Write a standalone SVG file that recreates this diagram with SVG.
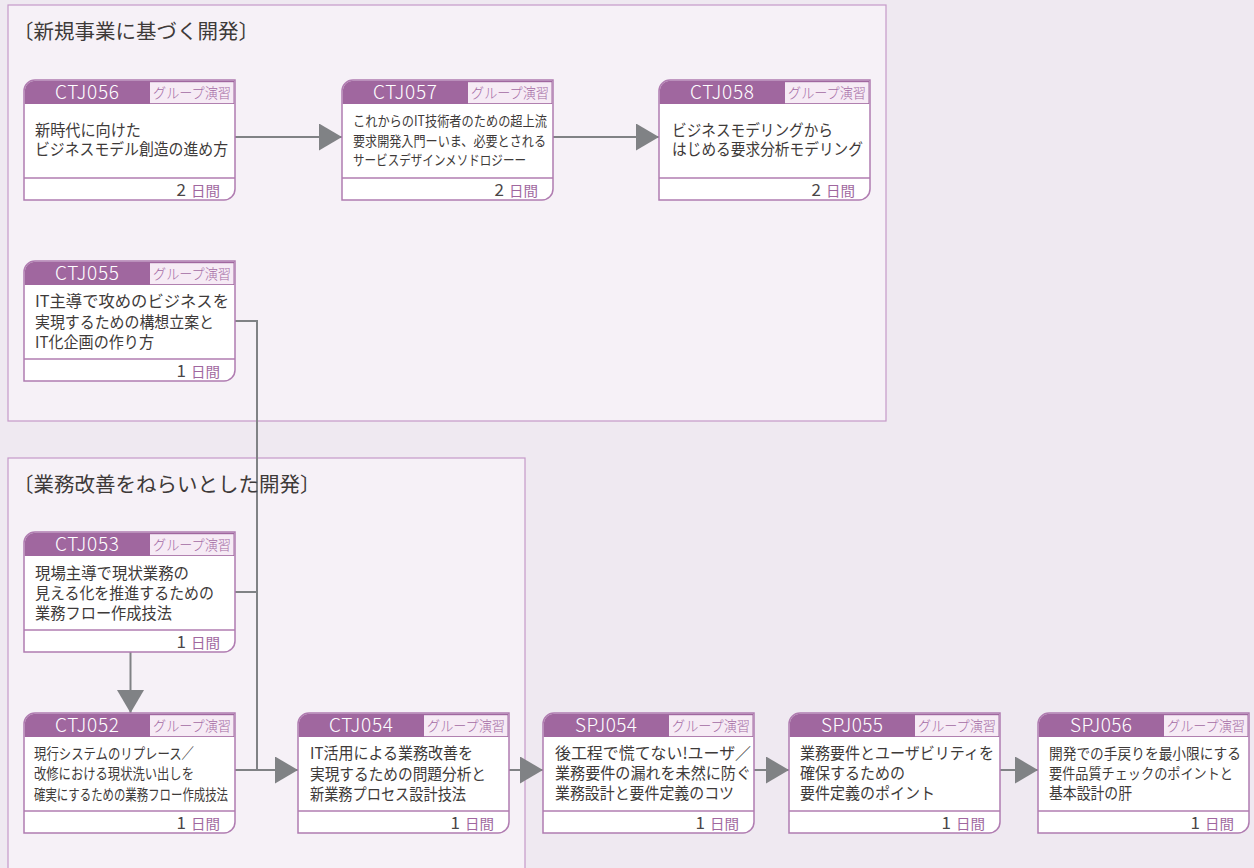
<svg xmlns="http://www.w3.org/2000/svg" xmlns:xlink="http://www.w3.org/1999/xlink" width="1254" height="868" viewBox="0 0 1254 868">
<style>
text{font-family:"Noto Sans CJK JP","Noto Sans",sans-serif;}
.grp{fill:#f6f1f7;stroke:#c59ac8;stroke-width:1.2;}
.gt{font-size:20.5px;fill:#3e3a39;}
.box{fill:#ffffff;stroke:#b07cb1;stroke-width:1.5;}
.hdr{fill:#a0679f;}
.tag{fill:#f6ebf5;}
.sep{stroke:#b07cb1;stroke-width:1.3;}
.hd{font-family:"Noto Sans CJK JP Light","Noto Sans CJK JP","Open Sans",sans-serif;font-weight:300;font-size:19px;fill:#ffffff;text-anchor:middle;}
.tg{font-weight:300;font-size:14px;fill:#a46aa4;text-anchor:middle;}
.bd{font-size:16px;fill:#3e3a39;}
.sm{font-size:14px;}
.md{font-size:15px;}
.xs{font-size:14.5px;}
.dn{font-size:17px;fill:#4a4647;text-anchor:end;}
.du{font-size:14px;fill:#a0679f;}
.cn{fill:none;stroke:#808285;stroke-width:2;}
</style>
<defs>
<marker id="arr" viewBox="0 0 23 27" refX="23" refY="13.5" markerWidth="23" markerHeight="27" markerUnits="userSpaceOnUse" orient="auto">
<path d="M0,0 L23,13.5 L0,27 Z" fill="#808285"/>
</marker>
<g id="frame">
<path class="box" d="M0,11 A11,11 0 0 1 11,0 H211 V109 A11,11 0 0 1 200,120 H0 Z"/>
<path class="hdr" d="M0.75,11 A10.25,10.25 0 0 1 11,0.75 H210.25 V24 H0.75 Z"/>
<rect class="tag" x="126" y="2.2" width="83.5" height="21"/>
<line class="sep" x1="0" y1="98" x2="211" y2="98"/>
</g>
</defs>
<rect x="0" y="0" width="1254" height="868" fill="#efe9f1"/>
<g id="group-new">
<rect class="grp" x="8" y="5" width="878" height="416"/>
<text class="gt" x="13" y="39">〔新規事業に基づく開発〕</text>
</g>
<g id="group-improve">
<rect class="grp" x="8" y="458" width="517" height="460"/>
</g>
<g id="connectors">
<path class="cn" d="M235,137 H342" marker-end="url(#arr)"/>
<path class="cn" d="M553,137 H659" marker-end="url(#arr)"/>
<path class="cn" d="M235,321 H257 V770"/>
<path class="cn" d="M235,592 H257"/>
<path class="cn" d="M235,770 H298" marker-end="url(#arr)"/>
<path class="cn" d="M130.5,652 V713" marker-end="url(#arr)"/>
<path class="cn" d="M509,770 H543" marker-end="url(#arr)"/>
<path class="cn" d="M754,770 H789" marker-end="url(#arr)"/>
<path class="cn" d="M1000,770 H1038" marker-end="url(#arr)"/>
</g>
<text class="gt" x="13" y="492">〔業務改善をねらいとした開発〕</text>

<g id="CTJ056" transform="translate(24,80)">
<use xlink:href="#frame"/>
<text class="hd" x="63" y="19" textLength="64">CTJ056</text>
<text class="tg" x="168" y="18" textLength="78" lengthAdjust="spacingAndGlyphs">グループ演習</text>
<text class="bd" x="11" y="56" textLength="106" lengthAdjust="spacingAndGlyphs">新時代に向けた</text>
<text class="bd" x="11" y="75" textLength="193" lengthAdjust="spacingAndGlyphs">ビジネスモデル創造の進め方</text>
<text class="dn" x="162" y="116">2</text>
<text class="du" x="167" y="116" textLength="29" lengthAdjust="spacingAndGlyphs">日間</text>
</g>

<g id="CTJ057" transform="translate(342,80)">
<use xlink:href="#frame"/>
<text class="hd" x="63" y="19" textLength="64">CTJ057</text>
<text class="tg" x="168" y="18" textLength="78" lengthAdjust="spacingAndGlyphs">グループ演習</text>
<text class="bd sm" x="11" y="46" textLength="194" lengthAdjust="spacingAndGlyphs">これからのIT技術者のための超上流</text>
<text class="bd sm" x="11" y="65.5" textLength="193" lengthAdjust="spacingAndGlyphs">要求開発入門ーいま、必要とされる</text>
<text class="bd sm" x="11" y="85" textLength="173" lengthAdjust="spacingAndGlyphs">サービスデザインメソドロジーー</text>
<text class="dn" x="162" y="116">2</text>
<text class="du" x="167" y="116" textLength="29" lengthAdjust="spacingAndGlyphs">日間</text>
</g>

<g id="CTJ058" transform="translate(659,80)">
<use xlink:href="#frame"/>
<text class="hd" x="63" y="19" textLength="64">CTJ058</text>
<text class="tg" x="168" y="18" textLength="78" lengthAdjust="spacingAndGlyphs">グループ演習</text>
<text class="bd" x="13" y="56" textLength="161" lengthAdjust="spacingAndGlyphs">ビジネスモデリングから</text>
<text class="bd" x="13" y="75" textLength="191" lengthAdjust="spacingAndGlyphs">はじめる要求分析モデリング</text>
<text class="dn" x="162" y="116">2</text>
<text class="du" x="167" y="116" textLength="29" lengthAdjust="spacingAndGlyphs">日間</text>
</g>

<g id="CTJ055" transform="translate(24,261)">
<use xlink:href="#frame"/>
<text class="hd" x="63" y="19" textLength="64">CTJ055</text>
<text class="tg" x="168" y="18" textLength="78" lengthAdjust="spacingAndGlyphs">グループ演習</text>
<text class="bd" x="11" y="46" textLength="194" lengthAdjust="spacingAndGlyphs">IT主導で攻めのビジネスを</text>
<text class="bd" x="11" y="67" textLength="179" lengthAdjust="spacingAndGlyphs">実現するための構想立案と</text>
<text class="bd" x="11" y="87" textLength="119" lengthAdjust="spacingAndGlyphs">IT化企画の作り方</text>
<text class="dn" x="162" y="116">1</text>
<text class="du" x="167" y="116" textLength="29" lengthAdjust="spacingAndGlyphs">日間</text>
</g>

<g id="CTJ053" transform="translate(24,532)">
<use xlink:href="#frame"/>
<text class="hd" x="63" y="19" textLength="64">CTJ053</text>
<text class="tg" x="168" y="18" textLength="78" lengthAdjust="spacingAndGlyphs">グループ演習</text>
<text class="bd" x="11" y="47" textLength="154" lengthAdjust="spacingAndGlyphs">現場主導で現状業務の</text>
<text class="bd" x="11" y="67" textLength="179" lengthAdjust="spacingAndGlyphs">見える化を推進するための</text>
<text class="bd" x="11" y="87" textLength="137" lengthAdjust="spacingAndGlyphs">業務フロー作成技法</text>
<text class="dn" x="162" y="116">1</text>
<text class="du" x="167" y="116" textLength="29" lengthAdjust="spacingAndGlyphs">日間</text>
</g>

<g id="CTJ052" transform="translate(24,713)">
<use xlink:href="#frame"/>
<text class="hd" x="63" y="19" textLength="64">CTJ052</text>
<text class="tg" x="168" y="18" textLength="78" lengthAdjust="spacingAndGlyphs">グループ演習</text>
<text class="bd md" x="10" y="46" textLength="160" lengthAdjust="spacingAndGlyphs">現行システムのリプレース／</text>
<text class="bd md" x="10" y="66" textLength="160" lengthAdjust="spacingAndGlyphs">改修における現状洗い出しを</text>
<text class="bd md" x="10" y="87" textLength="194" lengthAdjust="spacingAndGlyphs">確実にするための業務フロー作成技法</text>
<text class="dn" x="162" y="116">1</text>
<text class="du" x="167" y="116" textLength="29" lengthAdjust="spacingAndGlyphs">日間</text>
</g>

<g id="CTJ054" transform="translate(298,713)">
<use xlink:href="#frame"/>
<text class="hd" x="63" y="19" textLength="64">CTJ054</text>
<text class="tg" x="168" y="18" textLength="78" lengthAdjust="spacingAndGlyphs">グループ演習</text>
<text class="bd" x="12" y="46" textLength="163" lengthAdjust="spacingAndGlyphs">IT活用による業務改善を</text>
<text class="bd" x="12" y="67" textLength="176" lengthAdjust="spacingAndGlyphs">実現するための問題分析と</text>
<text class="bd" x="12" y="87" textLength="156" lengthAdjust="spacingAndGlyphs">新業務プロセス設計技法</text>
<text class="dn" x="162" y="116">1</text>
<text class="du" x="167" y="116" textLength="29" lengthAdjust="spacingAndGlyphs">日間</text>
</g>

<g id="SPJ054" transform="translate(543,713)">
<use xlink:href="#frame"/>
<text class="hd" x="63" y="19" textLength="62">SPJ054</text>
<text class="tg" x="168" y="18" textLength="78" lengthAdjust="spacingAndGlyphs">グループ演習</text>
<text class="bd" x="12" y="46" textLength="196" lengthAdjust="spacingAndGlyphs">後工程で慌てない!ユーザ／</text>
<text class="bd" x="12" y="66" textLength="196" lengthAdjust="spacingAndGlyphs">業務要件の漏れを未然に防ぐ</text>
<text class="bd" x="12" y="86" textLength="179" lengthAdjust="spacingAndGlyphs">業務設計と要件定義のコツ</text>
<text class="dn" x="162" y="116">1</text>
<text class="du" x="167" y="116" textLength="29" lengthAdjust="spacingAndGlyphs">日間</text>
</g>

<g id="SPJ055" transform="translate(789,713)">
<use xlink:href="#frame"/>
<text class="hd" x="63" y="19" textLength="62">SPJ055</text>
<text class="tg" x="168" y="18" textLength="78" lengthAdjust="spacingAndGlyphs">グループ演習</text>
<text class="bd" x="11" y="46" textLength="194" lengthAdjust="spacingAndGlyphs">業務要件とユーザビリティを</text>
<text class="bd" x="11" y="66" textLength="105" lengthAdjust="spacingAndGlyphs">確保するための</text>
<text class="bd" x="11" y="86" textLength="135" lengthAdjust="spacingAndGlyphs">要件定義のポイント</text>
<text class="dn" x="162" y="116">1</text>
<text class="du" x="167" y="116" textLength="29" lengthAdjust="spacingAndGlyphs">日間</text>
</g>

<g id="SPJ056" transform="translate(1038,713)">
<use xlink:href="#frame"/>
<text class="hd" x="63" y="19" textLength="62">SPJ056</text>
<text class="tg" x="168" y="18" textLength="78" lengthAdjust="spacingAndGlyphs">グループ演習</text>
<text class="bd xs" x="11" y="46" textLength="192" lengthAdjust="spacingAndGlyphs">開発での手戻りを最小限にする</text>
<text class="bd xs" x="11" y="66" textLength="184" lengthAdjust="spacingAndGlyphs">要件品質チェックのポイントと</text>
<text class="bd" x="11" y="86" textLength="83" lengthAdjust="spacingAndGlyphs">基本設計の肝</text>
<text class="dn" x="162" y="116">1</text>
<text class="du" x="167" y="116" textLength="29" lengthAdjust="spacingAndGlyphs">日間</text>
</g>
</svg>
